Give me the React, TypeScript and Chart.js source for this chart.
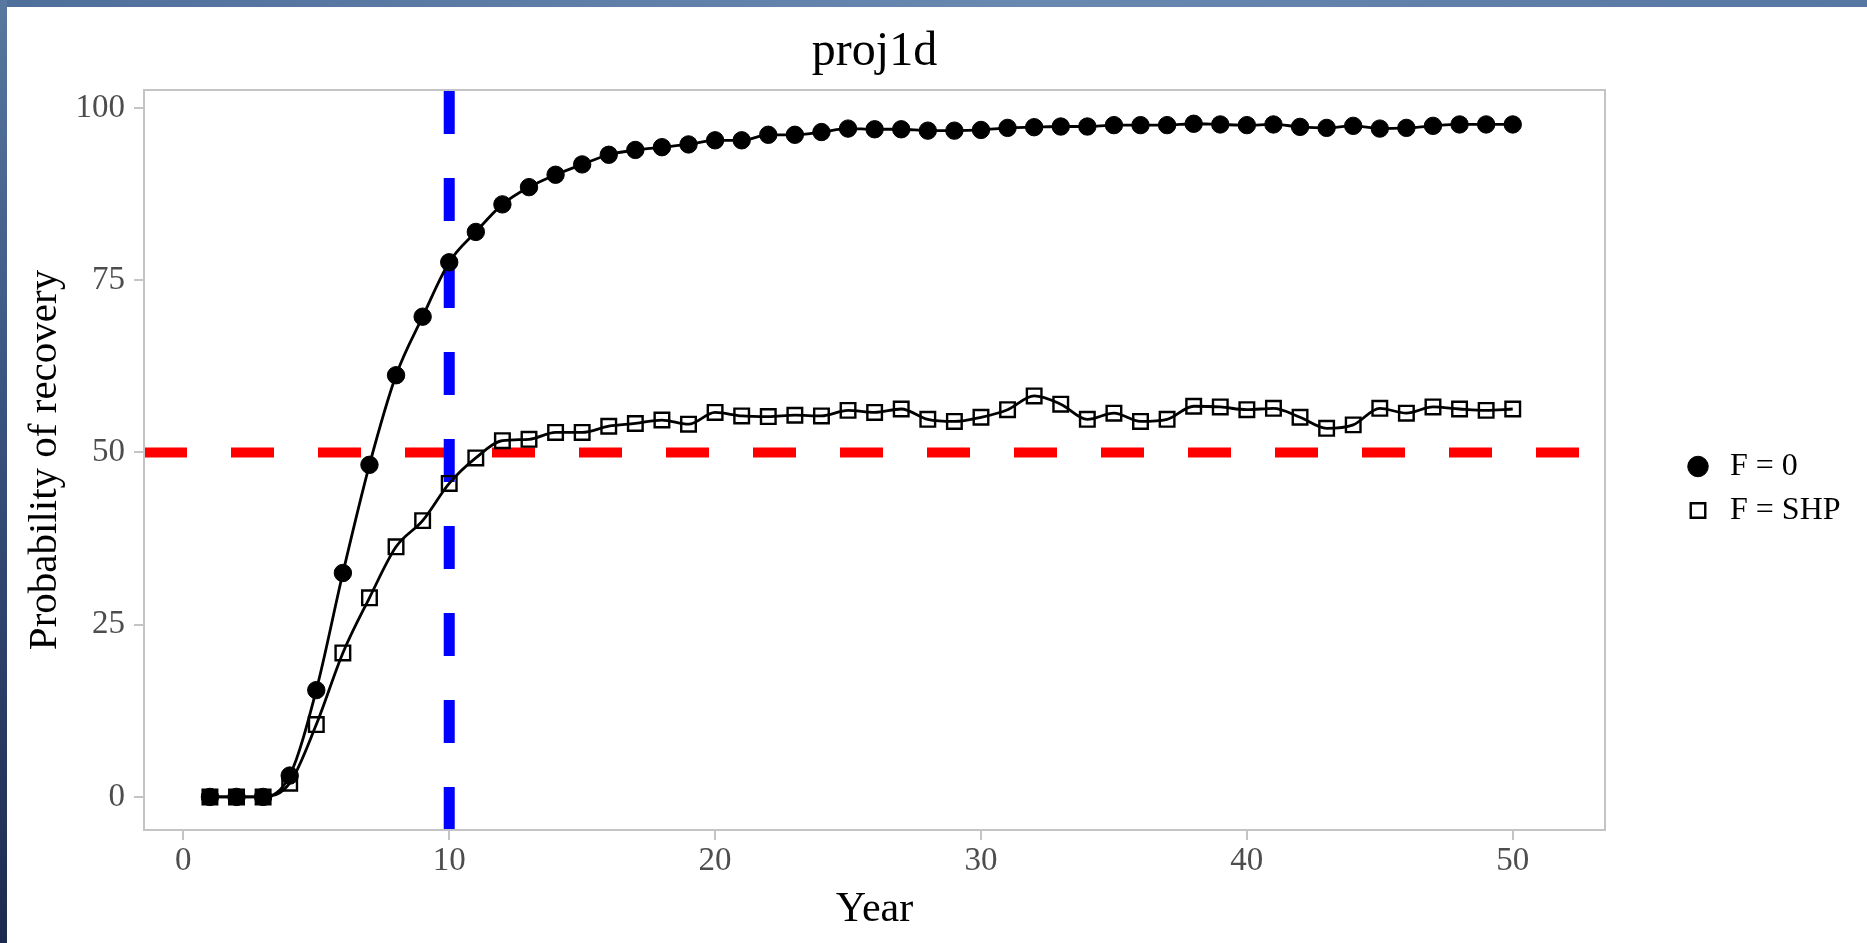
import React, { useEffect, useRef } from 'react';
import { Chart, registerables } from 'chart.js';

Chart.register(...registerables);

// ---- data ----
const YEARS = [1, 2, 3, 4, 5, 6, 7, 8, 9, 10, 11, 12, 13, 14, 15, 16, 17, 18, 19, 20, 21, 22, 23, 24, 25, 26, 27, 28, 29, 30, 31, 32, 33, 34, 35, 36, 37, 38, 39, 40, 41, 42, 43, 44, 45, 46, 47, 48, 49, 50];
const F_ZERO = [0, 0, 0, 3.1, 15.5, 32.5, 48.2, 61.2, 69.7, 77.6, 82.0, 86.0, 88.5, 90.3, 91.8, 93.2, 93.9, 94.3, 94.7, 95.3, 95.3, 96.1, 96.1, 96.5, 97.0, 96.9, 96.9, 96.7, 96.7, 96.8, 97.1, 97.2, 97.3, 97.3, 97.5, 97.5, 97.5, 97.7, 97.6, 97.5, 97.6, 97.25, 97.1, 97.4, 97.0, 97.1, 97.4, 97.6, 97.6, 97.6];
const F_SHP = [0, 0, 0, 2.0, 10.5, 20.9, 28.9, 36.3, 40.1, 45.5, 49.2, 51.7, 51.9, 52.9, 52.9, 53.8, 54.2, 54.7, 54.1, 55.8, 55.3, 55.2, 55.4, 55.3, 56.1, 55.8, 56.3, 54.8, 54.5, 55.1, 56.2, 58.2, 57.0, 54.8, 55.7, 54.5, 54.8, 56.7, 56.6, 56.2, 56.4, 55.1, 53.5, 54.0, 56.4, 55.7, 56.6, 56.3, 56.1, 56.3];
const SERIES_LABELS = ['F = 0', 'F = SHP'];
const X_TICKS = [0, 10, 20, 30, 40, 50];
const Y_TICKS = [0, 25, 50, 75, 100];
const X_RANGE = [-1.48, 53.47];
const Y_RANGE = [-4.8, 102.6];
const REF_YEAR = 10;
const REF_PROB = 50;
const TITLE = 'proj1d';
const X_TITLE = 'Year';
const Y_TITLE = 'Probability of recovery';

const FONT = "'Liberation Serif', 'Times New Roman', serif";

const panelBorder = {
  id: 'panelBorder',
  afterDatasetsDraw(chart: any) {
    const { ctx, chartArea } = chart;
    const { left, top, right, bottom } = chartArea;
    ctx.save();
    ctx.strokeStyle = '#c4c4c4';
    ctx.lineWidth = 2;
    ctx.strokeRect(left, top, right - left, bottom - top);
    ctx.restore();
  },
};

const legendShift = {
  id: 'legendShift',
  afterLayout(chart: any) {
    const lg = chart.legend;
    if (!lg) return;
    const dx = 65;
    const dy = 17;
    lg.left += dx;
    lg.right += dx;
    lg.top += dy;
    lg.bottom += dy;
  },
};

export default function App() {
  const ref = useRef<HTMLCanvasElement | null>(null);

  useEffect(() => {
    const canvas = ref.current;
    if (!canvas) return;
    const chart = new Chart(canvas, {
      type: 'line',
      data: {
        datasets: [
          {
            label: SERIES_LABELS[0],
            data: YEARS.map((x, i) => ({ x, y: F_ZERO[i] })),
            borderColor: '#000000',
            borderWidth: 2.8,
            pointStyle: 'circle',
            pointRadius: 8.7,
            pointBorderWidth: 1,
            pointBackgroundColor: '#000000',
            pointBorderColor: '#000000',
            tension: 0.4,
            cubicInterpolationMode: 'monotone',
            order: 0,
          },
          {
            label: SERIES_LABELS[1],
            data: YEARS.map((x, i) => ({ x, y: F_SHP[i] })),
            borderColor: '#000000',
            borderWidth: 2.8,
            pointStyle: 'rect',
            pointRadius: 10.3,
            pointBorderWidth: 2.4,
            pointBackgroundColor: 'rgba(0,0,0,0)',
            pointBorderColor: '#000000',
            tension: 0.4,
            cubicInterpolationMode: 'monotone',
            order: 1,
          },
          {
            label: 'ref-h',
            data: [
              { x: X_RANGE[0], y: REF_PROB },
              { x: X_RANGE[1], y: REF_PROB },
            ],
            borderColor: '#ff0000',
            borderWidth: 10,
            borderDash: [43, 44],
            pointRadius: 0,
            tension: 0,
            clip: 0,
            order: 3,
          },
          {
            label: 'ref-v',
            data: [
              { x: REF_YEAR, y: Y_RANGE[0] },
              { x: REF_YEAR, y: Y_RANGE[1] },
            ],
            borderColor: '#0000ff',
            borderWidth: 11,
            borderDash: [43, 44],
            pointRadius: 0,
            tension: 0,
            clip: 0,
            order: 2,
          },
        ] as any,
      },
      options: {
        responsive: false,
        animation: false,
        devicePixelRatio: 1,
        layout: { padding: { left: 0, top: 0, bottom: 0, right: 84 } },
        plugins: {
          tooltip: { enabled: false },
          title: {
            display: true,
            text: TITLE,
            fullSize: false,
            color: '#000000',
            font: { family: FONT, size: 48, weight: 'normal' },
            padding: { top: 24, bottom: 8.4 },
          },
          legend: {
            display: true,
            position: 'right',
            maxWidth: 178,
            labels: {
              usePointStyle: true,
              boxWidth: 32,
              boxHeight: 14.5,
              padding: 12,
              color: '#000000',
              font: { family: FONT, size: 32 },
              filter: (item: any) => SERIES_LABELS.includes(item.text),
            },
          },
        },
        scales: {
          x: {
            type: 'linear',
            min: X_RANGE[0],
            max: X_RANGE[1],
            afterBuildTicks: (s: any) => {
              s.ticks = X_TICKS.map((v) => ({ value: v }));
            },
            afterFit: (s: any) => {
              s.height = 113;
            },
            grid: {
              drawOnChartArea: false,
              drawTicks: true,
              tickLength: 10,
              color: '#c4c4c4',
              lineWidth: 2,
            },
            border: { display: false },
            ticks: {
              color: '#4d4d4d',
              font: { family: FONT, size: 33 },
              padding: 2,
              maxRotation: 0,
              autoSkip: false,
              callback: (v: any) => String(v),
            },
            title: {
              display: true,
              text: X_TITLE,
              color: '#000000',
              font: { family: FONT, size: 42 },
              padding: { top: 0, bottom: 8 },
            },
          },
          y: {
            type: 'linear',
            min: Y_RANGE[0],
            max: Y_RANGE[1],
            afterBuildTicks: (s: any) => {
              s.ticks = Y_TICKS.map((v) => ({ value: v }));
            },
            afterFit: (s: any) => {
              s.width = 144;
            },
            grid: {
              drawOnChartArea: false,
              drawTicks: true,
              tickLength: 10,
              color: '#c4c4c4',
              lineWidth: 2,
            },
            border: { display: false },
            ticks: {
              color: '#4d4d4d',
              font: { family: FONT, size: 33 },
              padding: 9,
              autoSkip: false,
              callback: (v: any) => String(v),
            },
            title: {
              display: true,
              text: Y_TITLE,
              color: '#000000',
              font: { family: FONT, size: 41 },
              padding: { top: 21, bottom: 0 },
            },
          },
        },
      } as any,
      plugins: [panelBorder, legendShift],
    });
    return () => chart.destroy();
  }, []);

  return (
    <div
      style={{
        position: 'fixed',
        left: 0,
        top: 0,
        width: 1867,
        height: 943,
        background: '#ffffff',
        overflow: 'hidden',
      }}
    >
      <canvas
        ref={ref}
        width={1867}
        height={943}
        style={{ position: 'absolute', left: 0, top: 0, width: 1867, height: 943 }}
      />
      <div
        style={{
          position: 'absolute',
          left: 0,
          top: 0,
          width: 1867,
          height: 7,
          background: 'linear-gradient(90deg, #4f6f9b 0%, #6a89b1 55%, #5677a2 100%)',
        }}
      />
      <div
        style={{
          position: 'absolute',
          left: 0,
          top: 0,
          width: 7,
          height: 943,
          background: 'linear-gradient(180deg, #58789f 0%, #3a5582 40%, #1d2a4f 100%)',
        }}
      />
    </div>
  );
}
